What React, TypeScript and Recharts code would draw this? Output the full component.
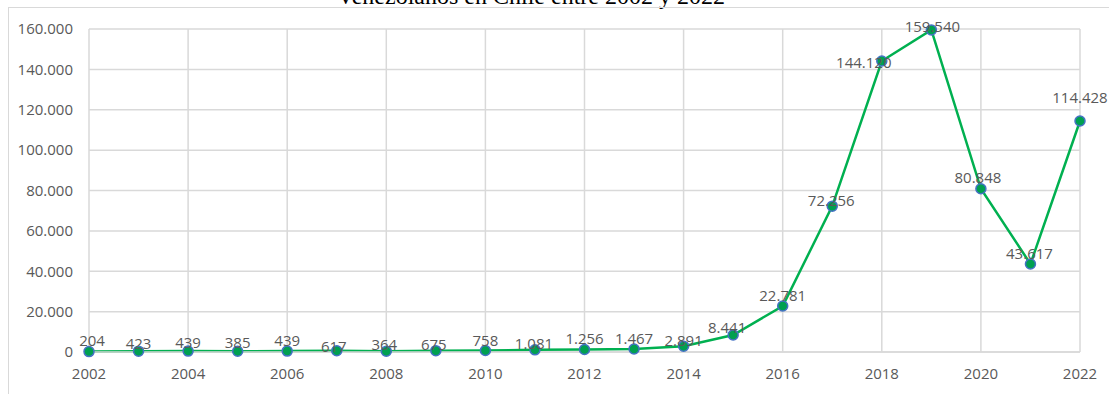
import { LineChart, Line, XAxis, YAxis, CartesianGrid, LabelList } from "recharts";

const years = [
  "2002", "2003", "2004", "2005", "2006", "2007", "2008", "2009", "2010", "2011", "2012",
  "2013", "2014", "2015", "2016", "2017", "2018", "2019", "2020", "2021", "2022",
];
const residents = [
  204, 423, 439, 385, 439, 617, 364, 675, 758, 1081, 1256, 1467, 2891, 8441, 22781,
  72256, 144120, 159540, 80848, 43617, 114428,
];
const yTicks = [0, 20000, 40000, 60000, 80000, 100000, 120000, 140000, 160000];

// label nudges (dx, dy of text centre from the point)
const labelNudge: [number, number][] = [
  [3, -12], [0, -8], [0, -9], [0, -9], [0, -11], [-3, -5], [-2, -7], [-2, -7], [0, -10],
  [-1, -7], [0, -11], [0, -11], [0, -6], [-6, -8], [0, -11], [-1, -6], [-18, 1], [1, -4],
  [-3, -12], [-1, -11], [0, -24],
];

const data = years.map((year, i) => ({ year, value: residents[i] }));

const fmt = (v: number) => String(v).replace(/\B(?=(\d{3})+(?!\d))/g, ".");

const FONT = "'Open Sans', sans-serif";
const TEXT = "#595959";

const renderLabel = (props: any) => {
  const { x, y, value, index } = props;
  const [dx, dy] = labelNudge[index] || [0, -10];
  return (
    <text
      x={x + dx}
      y={y + dy}
      textAnchor="middle"
      dominantBaseline="central"
      fontFamily={FONT}
      fontSize={15}
      fill={TEXT}
    >
      {fmt(value)}
    </text>
  );
};

export default function App() {
  return (
    <div
      style={{
        position: "absolute",
        left: 0,
        top: 0,
        width: 1109,
        height: 394,
        background: "#fff",
        overflow: "hidden",
      }}
    >
      {/* title is cut off at the top of the reference */}
      <div
        style={{
          position: "absolute",
          top: -16,
          left: 0,
          width: 1062,
          textAlign: "center",
          fontFamily: "'Liberation Serif', serif",
          fontSize: 24,
          lineHeight: "24px",
          color: "#000",
        }}
      >
        Venezolanos en Chile entre 2002 y 2022
      </div>
      {/* chart frame */}
      <div
        style={{
          position: "absolute",
          top: 7,
          left: 8,
          width: 1120,
          height: 400,
          borderTop: "1px solid #d9d9d9",
          borderLeft: "1px solid #d9d9d9",
        }}
      />
      <div style={{ position: "absolute", left: 0, top: 0 }}>
        <LineChart
          width={1109}
          height={394}
          data={data}
          margin={{ top: 29, right: 29, bottom: 0, left: 0 }}
        >
          <CartesianGrid stroke="#d9d9d9" strokeWidth={1.5} />
          <XAxis
            dataKey="year"
            interval={1}
            height={42}
            axisLine={{ stroke: "#d9d9d9", strokeWidth: 1.5 }}
            tickLine={false}
            tickMargin={10}
            tick={{ fontFamily: FONT, fontSize: 15, fill: TEXT }}
          />
          <YAxis
            width={89}
            domain={[0, 160000]}
            ticks={yTicks}
            axisLine={false}
            tickLine={false}
            tickMargin={10}
            tickFormatter={fmt}
            tick={{ fontFamily: FONT, fontSize: 15, fill: TEXT }}
          />
          <Line
            type="linear"
            dataKey="value"
            stroke="#00b050"
            strokeWidth={2.5}
            dot={{ r: 5, fill: "#00a050", stroke: "#4472c4", strokeWidth: 1.5 }}
            isAnimationActive={false}
          >
            <LabelList dataKey="value" content={renderLabel} />
          </Line>
        </LineChart>
      </div>
    </div>
  );
}
